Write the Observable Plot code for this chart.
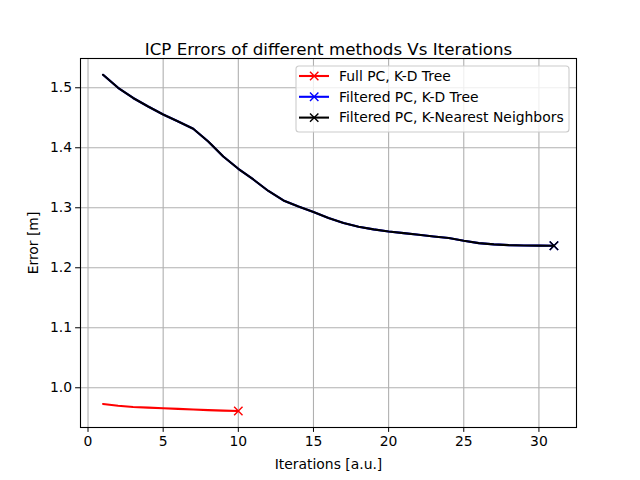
<!DOCTYPE html>
<html>
<head>
<meta charset="utf-8">
<script src="https://cdn.jsdelivr.net/npm/d3@7"></script>
<script src="https://cdn.jsdelivr.net/npm/@observablehq/plot@0.6"></script>
<style>
  html, body { margin: 0; padding: 0; background: #fff; }
  #plot { width: 640px; height: 480px; }
</style>
</head>
<body>
<div id="plot"></div>
<script>
const title = "ICP Errors of different methods Vs Iterations";
const seriesNames = ["Full PC, K-D Tree", "Filtered PC, K-D Tree", "Filtered PC, K-Nearest Neighbors"];
const seriesColors = ["red", "blue", "black"];

const fullIters = [1, 2, 3, 4, 5, 6, 7, 8, 9, 10];
const fullKdErr = [0.973, 0.970, 0.968, 0.967, 0.9658, 0.9648, 0.9638, 0.9628, 0.962, 0.9612];

const filtIters = [1, 2, 3, 4, 5, 6, 7, 8, 9, 10, 11, 12, 13, 14, 15, 16,
  17, 18, 19, 20, 21, 22, 23, 24, 25, 26, 27, 28, 29, 30, 31];
const filtKdErr = [1.5217, 1.500, 1.483, 1.4688, 1.4555, 1.4438, 1.4317, 1.4105,
  1.3855, 1.365, 1.3472, 1.328, 1.3122, 1.3022, 1.293, 1.283, 1.2748, 1.2683,
  1.264, 1.2605, 1.2578, 1.255, 1.2522, 1.2495, 1.245, 1.2411, 1.239, 1.2378,
  1.2372, 1.237, 1.2367];
const filtKnnErr = filtKdErr.slice();

const xTicks = [0, 5, 10, 15, 20, 25, 30];
const yTicks = [1.0, 1.1, 1.2, 1.3, 1.4, 1.5];

const toRows = (xs, ys, name) => xs.map((x, i) => ({ iter: x, err: ys[i], name }));
const series = [
  toRows(fullIters, fullKdErr, seriesNames[0]),
  toRows(filtIters, filtKdErr, seriesNames[1]),
  toRows(filtIters, filtKnnErr, seriesNames[2])
];

const font = "DejaVu Sans, sans-serif";
const gridStyle = { stroke: "#b0b0b0", strokeOpacity: 1, strokeWidth: 1.1 };

const marks = [
  Plot.gridX(xTicks, gridStyle),
  Plot.gridY(yTicks, gridStyle)
];
series.forEach((rows, i) => {
  marks.push(Plot.line(rows, { x: "iter", y: "err", stroke: seriesColors[i], strokeWidth: 2.1 }));
  // marker only on the last point
  marks.push(Plot.dot(rows.slice(-1), {
    x: "iter", y: "err", symbol: "times", r: 3.9,
    stroke: seriesColors[i], strokeWidth: 1.4
  }));
});
marks.push(
  Plot.frame({ stroke: "black", strokeWidth: 1.1 }),
  Plot.axisX(xTicks, {
    tickSize: 4.9, tickPadding: 3.5, fontSize: 13.9,
    label: "Iterations [a.u.]", labelAnchor: "center", labelArrow: "none", labelOffset: 41
  }),
  Plot.axisY(yTicks, {
    tickSize: 4.9, tickPadding: 3.5, fontSize: 13.9, tickFormat: d3.format(".1f"),
    label: "Error [m]", labelAnchor: "center", labelArrow: "none", labelOffset: 52
  }),
  Plot.text([title], { frameAnchor: "top", dy: -15, fontSize: 16.7, fill: "black" })
);

const plot = Plot.plot({
  width: 640,
  height: 480,
  marginLeft: 80,
  marginRight: 64,
  marginTop: 58,
  marginBottom: 53,
  style: { background: "white", color: "black", fontFamily: font, fontSize: "13.9px" },
  x: { domain: [-0.5, 32.5] },
  y: { domain: [0.9338, 1.5488] },
  marks
});

// matplotlib-like legend in the upper right corner
const svg = d3.select(plot);
const leg = svg.append("g").attr("transform", "translate(296,66)");
leg.append("rect")
  .attr("width", 273).attr("height", 66).attr("rx", 3)
  .attr("fill", "white").attr("fill-opacity", 0.8)
  .attr("stroke", "#cccccc").attr("stroke-width", 1.1);
seriesNames.forEach((name, i) => {
  const y = 10 + i * 20.8;
  const row = leg.append("g").attr("transform", `translate(0,${y})`);
  row.append("line").attr("x1", 3).attr("x2", 33).attr("y1", 0).attr("y2", 0)
    .attr("stroke", seriesColors[i]).attr("stroke-width", 2.1);
  row.append("path").attr("d", "M14,-4.2L22.4,4.2M14,4.2L22.4,-4.2")
    .attr("stroke", seriesColors[i]).attr("stroke-width", 1.4).attr("fill", "none");
  row.append("text").attr("x", 43).attr("y", 0).attr("dy", "0.35em")
    .attr("text-anchor", "start")
    .attr("font-family", font).attr("font-size", 13.9).attr("fill", "black")
    .text(name);
});

document.getElementById("plot").appendChild(plot);
</script>
</body>
</html>
